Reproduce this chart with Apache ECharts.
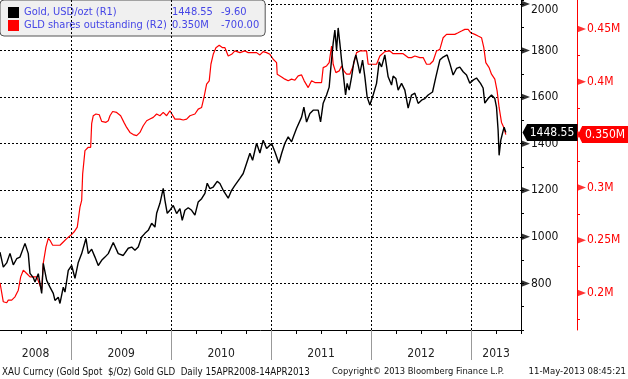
<!DOCTYPE html>
<html><head><meta charset="utf-8">
<script src="https://cdn.jsdelivr.net/npm/echarts@6/dist/echarts.min.js"></script>
<style>html,body{margin:0;padding:0;background:#fff}#c{width:628px;height:379px}</style>
</head><body><div id="c"></div>
<script>
// Time in decimal years (15 Apr 2008 = 2008.288)
const goldT = [
2008.288,2008.321,2008.355,2008.388,2008.421,2008.455,2008.488,2008.538,2008.571,2008.588,
2008.621,2008.638,2008.671,2008.705,2008.721,2008.755,2008.788,2008.821,2008.838,2008.871,
2008.888,2008.921,2008.938,2008.971,2009.005,2009.038,2009.071,2009.105,2009.148,2009.171,
2009.205,2009.238,2009.271,2009.305,2009.338,2009.371,2009.421,2009.471,2009.521,2009.571,
2009.605,2009.638,2009.671,2009.705,2009.738,2009.771,2009.805,2009.838,2009.855,2009.888,
2009.921,2009.938,2009.961,2009.988,2010.021,2010.055,2010.088,2010.111,2010.138,2010.171,
2010.205,2010.238,2010.271,2010.305,2010.338,2010.361,2010.388,2010.421,2010.461,2010.488,
2010.521,2010.571,2010.605,2010.638,2010.688,2010.721,2010.755,2010.788,2010.815,2010.855,
2010.888,2010.921,2010.955,2011.005,2011.038,2011.078,2011.105,2011.138,2011.171,2011.205,
2011.221,2011.255,2011.305,2011.328,2011.355,2011.388,2011.421,2011.471,2011.495,2011.521,
2011.555,2011.581,2011.598,2011.621,2011.638,2011.655,2011.671,2011.688,2011.705,2011.721,
2011.745,2011.761,2011.781,2011.805,2011.828,2011.848,2011.871,2011.888,2011.915,2011.938,
2011.961,2011.988,2012.021,2012.055,2012.081,2012.105,2012.138,2012.171,2012.205,2012.221,
2012.248,2012.271,2012.305,2012.338,2012.371,2012.405,2012.438,2012.471,2012.505,2012.538,
2012.571,2012.615,2012.648,2012.688,2012.721,2012.761,2012.788,2012.821,2012.855,2012.888,
2012.921,2012.955,2012.988,2013.021,2013.055,2013.095,2013.121,2013.138,2013.171,2013.205,
2013.238,2013.255,2013.271,2013.281,2013.298,2013.315,2013.331,2013.348];
const goldV = [
934,870,888,929,880,906,913,972,928,843,
825,806,842,757,886,813,784,757,727,741,
714,784,763,856,877,822,890,928,993,928,
947,913,877,899,913,928,976,928,920,951,
956,942,956,999,1015,1028,1058,1042,1101,1144,
1208,1157,1101,1114,1135,1100,1121,1071,1114,1125,
1114,1093,1150,1164,1187,1230,1207,1214,1238,1229,
1200,1166,1200,1221,1251,1272,1316,1359,1329,1402,
1360,1415,1379,1401,1365,1316,1358,1402,1429,1408,
1428,1466,1514,1557,1493,1530,1544,1544,1494,1574,
1609,1643,1729,1832,1888,1802,1897,1831,1759,1702,
1609,1659,1630,1686,1751,1781,1738,1702,1759,1687,
1600,1566,1609,1659,1751,1730,1781,1687,1652,1690,
1680,1630,1659,1630,1553,1609,1617,1573,1587,1594,
1609,1622,1686,1759,1772,1781,1745,1695,1723,1729,
1709,1695,1660,1673,1682,1659,1639,1574,1594,1609,
1594,1557,1458,1350,1415,1445,1471,1448.55];
const gldT = [
2008.288,2008.305,2008.321,2008.355,2008.371,2008.405,2008.438,2008.471,2008.495,2008.521,
2008.555,2008.588,2008.621,2008.655,2008.681,2008.705,2008.721,2008.748,2008.771,2008.788,
2008.815,2008.855,2008.888,2008.921,2008.955,2008.995,2009.028,2009.061,2009.088,2009.105,
2009.115,2009.138,2009.171,2009.195,2009.205,2009.221,2009.248,2009.281,2009.305,2009.348,
2009.371,2009.388,2009.415,2009.455,2009.495,2009.528,2009.555,2009.588,2009.621,2009.655,
2009.688,2009.721,2009.755,2009.788,2009.821,2009.855,2009.888,2009.921,2009.955,2009.988,
2010.005,2010.038,2010.088,2010.121,2010.155,2010.188,2010.238,2010.271,2010.305,2010.328,
2010.355,2010.381,2010.398,2010.421,2010.448,2010.481,2010.515,2010.538,2010.571,2010.605,
2010.638,2010.688,2010.738,2010.771,2010.805,2010.855,2010.888,2010.921,2010.955,2010.988,
2011.021,2011.055,2011.061,2011.105,2011.138,2011.171,2011.205,2011.238,2011.271,2011.305,
2011.331,2011.371,2011.405,2011.438,2011.471,2011.505,2011.521,2011.555,2011.581,2011.605,
2011.621,2011.648,2011.681,2011.705,2011.728,2011.755,2011.788,2011.821,2011.855,2011.888,
2011.921,2011.955,2011.971,2012.021,2012.055,2012.088,2012.138,2012.188,2012.221,2012.271,
2012.321,2012.371,2012.405,2012.438,2012.488,2012.521,2012.555,2012.588,2012.621,2012.655,
2012.688,2012.721,2012.755,2012.788,2012.838,2012.871,2012.905,2012.938,2012.971,2012.998,
2013.038,2013.071,2013.105,2013.128,2013.148,2013.181,2013.205,2013.238,2013.261,2013.281,
2013.305,2013.328,2013.348];
const gldV = [
0.2097,0.2097,0.1918,0.1909,0.1934,0.1934,0.1965,0.2028,0.2154,0.2217,
0.2186,0.2154,0.2154,0.2154,0.2091,0.2028,0.2283,0.2437,0.2519,0.2500,
0.2453,0.2453,0.2453,0.2484,0.2516,0.2547,0.2578,0.2625,0.2814,0.2877,
0.3129,0.3349,0.3380,0.3380,0.3603,0.3679,0.3695,0.3688,0.3625,0.3616,
0.3631,0.3679,0.3719,0.3710,0.3679,0.3616,0.3568,0.3521,0.3500,0.3490,
0.3521,0.3584,0.3631,0.3647,0.3663,0.3695,0.3679,0.3710,0.3679,0.3726,
0.3710,0.3647,0.3647,0.3638,0.3647,0.3679,0.3695,0.3741,0.3757,0.3851,
0.3977,0.4009,0.4166,0.4260,0.4323,0.4345,0.4323,0.4323,0.4244,0.4260,
0.4292,0.4276,0.4292,0.4276,0.4276,0.4276,0.4254,0.4285,0.4276,0.4260,
0.4213,0.4181,0.4072,0.4046,0.4025,0.4009,0.4025,0.4015,0.4056,0.4065,
0.4009,0.3945,0.4009,0.3993,0.3993,0.3993,0.4134,0.4150,0.4181,0.4339,
0.4166,0.4087,0.4103,0.4150,0.4103,0.4072,0.4072,0.4150,0.4276,0.4292,
0.4292,0.4292,0.4166,0.4166,0.4166,0.4244,0.4285,0.4292,0.4266,0.4266,
0.4266,0.4229,0.4229,0.4244,0.4229,0.4229,0.4166,0.4166,0.4197,0.4292,
0.4307,0.4417,0.4449,0.4449,0.4449,0.4464,0.4480,0.4496,0.4496,0.4464,
0.4449,0.4433,0.4417,0.4323,0.4181,0.4134,0.4072,0.4025,0.3914,0.3757,
0.3615,0.3568,0.3500];

const goldTicks = [800,1000,1200,1400,1600,1800,2000];
const gldTicks = [0.2,0.25,0.3,0.35,0.4,0.45];
const gldMinorTicks = [0.175,0.225,0.275,0.325,0.375,0.425];
const yearBounds = [2009,2010,2011,2012,2013];
const yearLabelPos = [2008.644,2009.5,2010.5,2011.5,2012.5,2013.25];
const quarterTicks = [2008.5,2008.75,2009,2009.25,2009.5,2009.75,2010,2010.25,2010.5,2010.75,
  2011,2011.25,2011.5,2011.75,2012,2012.25,2012.5,2012.75,2013,2013.25,2013.5];
const seriesNames = ['Gold, USD/ozt (R1)','GLD shares outstanding (R2)'];
const legendValues = ['1448.55','0.350M'];
const legendChanges = ['-9.60','-700.00'];
const lastGoldLabel = '1448.55', lastGldLabel = '0.350M';

const X_MIN = 2008.288, X_MAX = 2013.5;
const F = "'DejaVu Sans Condensed','DejaVu Sans',sans-serif";
const chart = echarts.init(document.getElementById('c'));
const dotted = {color:'#000', type:[2,2], width:1};
const LC = '#4646e6';

chart.setOption({
  animation:false,
  backgroundColor:'#fff',
  grid:{left:0, top:0, right:107, bottom:49, containLabel:false},
  legend:{
    left:0, top:0, orient:'vertical', icon:'rect', itemWidth:11, itemHeight:11, itemGap:2,
    padding:[7,6,5,8], backgroundColor:'#f0f0f0', borderColor:'#555', borderWidth:1, borderRadius:4,
    selectedMode:false, data:seriesNames,
    textStyle:{color:LC, fontSize:11, fontFamily:F,
      rich:{
        n:{width:148, color:LC, fontSize:11, fontFamily:F},
        v:{width:49, color:LC, fontSize:11, fontFamily:F},
        c:{color:LC, fontSize:11, fontFamily:F}
      }},
    formatter:function(name){const i=seriesNames.indexOf(name);return '{n|'+name+'}{v|'+legendValues[i]+'}{c|'+legendChanges[i]+'}';}
  },
  xAxis:[{
    type:'value', min:X_MIN, max:X_MAX,
    axisLine:{show:true, onZero:false, lineStyle:{color:'#000'}},
    axisTick:{show:true, customValues:quarterTicks, length:4, lineStyle:{color:'#000'}},
    axisLabel:{customValues:yearLabelPos, formatter:function(v){return String(Math.floor(v));}, margin:18, fontSize:12, color:'#222', fontFamily:F},
    splitLine:{show:false}
  },{
    type:'value', min:X_MIN, max:X_MAX, position:'bottom', offset:0,
    axisLine:{show:false},
    axisTick:{show:true, customValues:yearBounds, length:30, lineStyle:{color:'#999'}},
    axisLabel:{show:false}, splitLine:{show:false}
  }],
  yAxis:[{
    type:'value', position:'right', min:600, max:2017, interval:200,
    axisLine:{show:true, lineStyle:{color:'#000'}},
    axisTick:{show:true, length:3, lineStyle:{color:'#000'}},
    minorTick:{show:true, splitNumber:2, length:3, lineStyle:{color:'#000'}},
    axisLabel:{margin:10, color:'#111', fontSize:12, fontFamily:F,
      formatter:function(v){ if(goldTicks.indexOf(v)<0) return ''; return v===2000?'{t|2000}':String(v);},
      rich:{t:{padding:[12,0,0,0], color:'#111', fontSize:12, fontFamily:F}}},
    splitLine:{show:true, showMinLine:false, showMaxLine:false, lineStyle:dotted}
  },{
    type:'value', position:'right', offset:56, min:0.1651, max:0.4774,
    axisLine:{show:true, lineStyle:{color:'#ff0000'}},
    axisTick:{show:true, customValues:gldMinorTicks, length:3, lineStyle:{color:'#ff0000'}},
    axisLabel:{customValues:gldTicks, margin:10, color:'#ff0000', fontSize:12, fontFamily:F,
      formatter:function(v){return (+v.toFixed(3))+'M';}},
    splitLine:{show:false}
  }],
  series:[{
    name:seriesNames[0], type:'line', xAxisIndex:0, yAxisIndex:0, z:4,
    data:goldT.map(function(t,i){return [t,goldV[i]];}),
    showSymbol:false, symbol:'none', lineStyle:{color:'#000', width:1.4}, itemStyle:{color:'#000'},
    markLine:{silent:true, symbol:['none','none'], label:{show:false}, lineStyle:dotted,
      emphasis:{disabled:true}, data:yearBounds.map(function(y){return {xAxis:y};})},
    markPoint:{silent:true, symbol:'path://M0,5L5,0L60,0L60,10L5,10Z', symbolSize:[55,17], symbolOffset:[29,0],
      itemStyle:{color:'#000'},
      label:{show:true, color:'#fff', fontSize:12, fontFamily:F, offset:[2,0], formatter:lastGoldLabel},
      data:[{coord:[X_MAX, goldV[goldV.length-1]]}]}
  },{
    name:seriesNames[1], type:'line', xAxisIndex:0, yAxisIndex:1, z:3,
    data:gldT.map(function(t,i){return [t,gldV[i]];}),
    showSymbol:false, symbol:'none', lineStyle:{color:'#ff0000', width:1.2}, itemStyle:{color:'#ff0000'},
    markPoint:{silent:true, symbol:'path://M0,5L5,0L60,0L60,10L5,10Z', symbolSize:[50,17], symbolOffset:[82,0],
      itemStyle:{color:'#ff0000'},
      label:{show:true, color:'#fff', fontSize:12, fontFamily:F, offset:[2,0], formatter:lastGldLabel},
      data:[{coord:[X_MAX, gldV[gldV.length-1]]}]}
  },{
    type:'scatter', xAxisIndex:0, yAxisIndex:0, silent:true, clip:false, z:5,
    symbol:'triangle', symbolRotate:-90, symbolSize:[7,9], symbolOffset:[4.5,0],
    itemStyle:{color:'#000'},
    data:goldTicks.map(function(v){return [X_MAX, v];})
  },{
    type:'scatter', xAxisIndex:0, yAxisIndex:1, silent:true, clip:false, z:5,
    symbol:'triangle', symbolRotate:-90, symbolSize:[7,9], symbolOffset:[60.5,0],
    itemStyle:{color:'#ff0000'},
    data:gldTicks.map(function(v){return [X_MAX, v];})
  }],
  graphic:[
    {type:'text', left:2, top:367, style:{text:'XAU Curncy (Gold Spot  $/Oz) Gold GLD  Daily 15APR2008-14APR2013', fontSize:9.7, fontFamily:F, fill:'#111'}},
    {type:'text', left:332, top:367, style:{text:'Copyright\u00a9 2013 Bloomberg Finance L.P.', fontSize:9.3, fontFamily:F, fill:'#111'}},
    {type:'text', right:2, top:367, style:{text:'11-May-2013 08:45:21', fontSize:9.5, fontFamily:F, fill:'#111'}}
  ]
});
</script></body></html>
